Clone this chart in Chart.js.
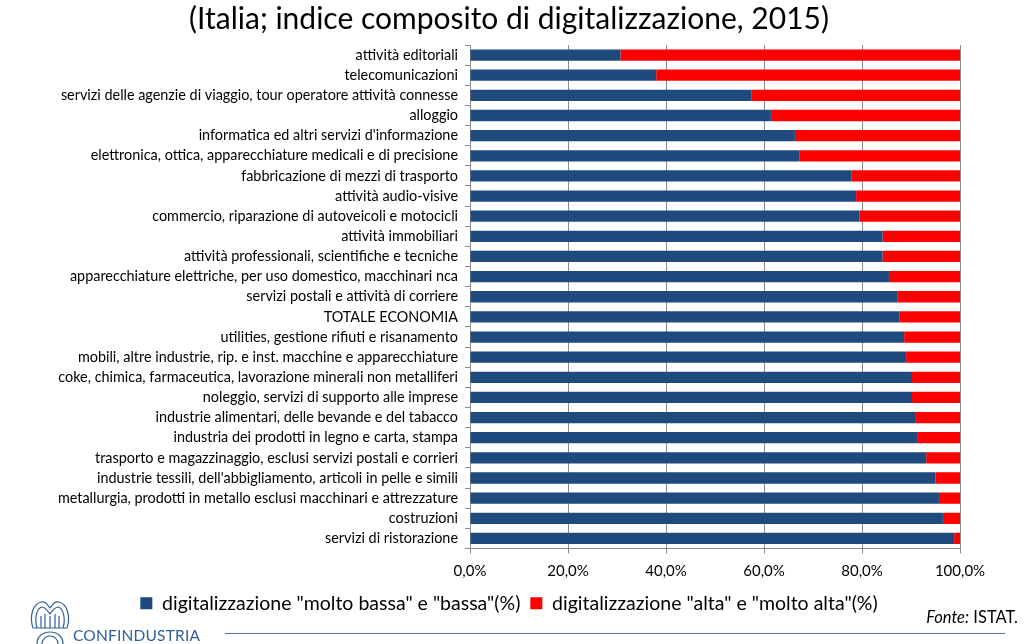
<!DOCTYPE html>
<html>
<head>
<meta charset="utf-8">
<script src="https://cdn.jsdelivr.net/npm/chart.js@4/dist/chart.umd.min.js"></script>
<style>
  html, body { margin: 0; padding: 0; background: #fff; }
  #wrap { position: relative; width: 1024px; height: 644px; overflow: hidden; }
  #fonte { position: absolute; right: 6px; top: 607px; font: 16.5px Lato, sans-serif; color: #000; }
  #logo { position: absolute; left: 73px; top: 626px; font: 15.5px Lato, sans-serif; color: #2f5f9a; letter-spacing: 0.2px; }
  #emblem { position: absolute; left: 27px; top: 598px; }
  #rule { position: absolute; left: 225px; top: 633px; width: 780px; height: 1px; background: #4a78b0; }
</style>
</head>
<body>
<div id="wrap">
  <canvas id="chart" width="1024" height="644"></canvas>
  <div id="fonte"><i>Fonte:</i> ISTAT.</div>
  <svg id="emblem" width="46" height="46" viewBox="0 0 46 46" fill="none" stroke="#2f5f9a" stroke-width="1.2">
    <path d="M6 30 C2 18 6 6 14 4 C18 3 20 6 23 10 C26 6 28 3 32 4 C40 6 44 18 40 30"/>
    <path d="M10 30 C7 20 10 10 15 9 C18 9 20 12 23 16 C26 12 28 9 31 9 C36 10 39 20 36 30"/>
    <path d="M14 30 L14 18 M18 30 L18 16 M23 30 L23 18 M28 30 L28 16 M32 30 L32 18"/>
    <path d="M6 30 L40 30"/>
    <path d="M10 46 C10 38 16 34 23 34 C30 34 36 38 36 46"/>
    <path d="M15 46 C15 41 19 38 23 38 C27 38 31 41 31 46"/>
  </svg>
  <div id="logo">CONFINDUSTRIA</div>
  <div id="rule"></div>
</div>
<script>
// Categorie (dall'alto verso il basso)
const categorie = [
    'attività editoriali',
    'telecomunicazioni',
    'servizi delle agenzie di viaggio, tour operatore attività connesse',
    'alloggio',
    "informatica ed altri servizi d'informazione",
    'elettronica, ottica, apparecchiature medicali e di precisione',
    'fabbricazione di mezzi di trasporto',
    'attività audio-visive',
    'commercio, riparazione di autoveicoli e motocicli',
    'attività immobiliari',
    'attività professionali, scientifiche e tecniche',
    'apparecchiature elettriche, per uso domestico, macchinari nca',
    'servizi postali e attività di corriere',
    'TOTALE ECONOMIA',
    'utilities, gestione rifiuti e risanamento',
    'mobili, altre industrie, rip. e inst. macchine e apparecchiature',
    'coke, chimica, farmaceutica, lavorazione minerali non metalliferi',
    'noleggio, servizi di supporto alle imprese',
    'industrie alimentari, delle bevande e del tabacco',
    'industria dei prodotti in legno e carta, stampa',
    'trasporto e magazzinaggio, esclusi servizi postali e corrieri',
    "industrie tessili, dell'abbigliamento, articoli in pelle e simili",
    'metallurgia, prodotti in metallo esclusi macchinari e attrezzature',
    'costruzioni',
    'servizi di ristorazione'
];

// digitalizzazione "molto bassa" e "bassa" (%)
const bassa = [30.7, 38.0, 57.5, 61.4, 66.3, 67.3, 77.8, 78.8, 79.5, 84.2, 84.2, 85.5, 87.3,
               87.6, 88.6, 89.0, 90.2, 90.2, 91.0, 91.4, 93.1, 95.0, 95.7, 96.5, 98.8];

// digitalizzazione "alta" e "molto alta" (%)
const alta = [69.3, 62.0, 42.5, 38.6, 33.7, 32.7, 22.2, 21.2, 20.5, 15.8, 15.8, 14.5, 12.7,
              12.4, 11.4, 11.0, 9.8, 9.8, 9.0, 8.6, 6.9, 5.0, 4.3, 3.5, 1.2];

const xTicks = [0, 20, 40, 60, 80, 100];

const FONT = 'Lato, "Liberation Sans", sans-serif';
const GRID = '#8c8c8c';

new Chart(document.getElementById('chart'), {
    type: 'bar',
    data: {
        labels: categorie,
        datasets: [
            {
                label: 'digitalizzazione "molto bassa" e "bassa"(%)',
                data: bassa,
                backgroundColor: '#1f4a7e',
                barPercentage: 0.56,
                categoryPercentage: 1
            },
            {
                label: 'digitalizzazione "alta" e "molto alta"(%)',
                data: alta,
                backgroundColor: '#ff0000',
                barPercentage: 0.56,
                categoryPercentage: 1
            }
        ]
    },
    options: {
        indexAxis: 'y',
        responsive: false,
        animation: false,
        layout: { padding: { left: 0, right: 6, top: 0, bottom: 21 } },
        plugins: {
            title: {
                display: true,
                text: '(Italia; indice composito di digitalizzazione, 2015)',
                color: '#000',
                font: { family: FONT, size: 30, weight: 'normal' },
                padding: { top: 1, bottom: 8 }
            },
            legend: {
                position: 'bottom',
                labels: {
                    color: '#000',
                    font: { family: FONT, size: 19.5 },
                    boxWidth: 12,
                    boxHeight: 12,
                    padding: 10
                }
            },
            tooltip: { enabled: false }
        },
        scales: {
            x: {
                stacked: true,
                min: 0,
                max: 100,
                afterBuildTicks: s => { s.ticks = xTicks.map(v => ({ value: v })); },
                afterFit: s => { s.height = 35; },
                ticks: {
                    color: '#000',
                    font: { family: FONT, size: 15 },
                    padding: 9,
                    callback: v => v.toFixed(1).replace('.', ',') + '%'
                },
                grid: { color: GRID, tickLength: 5 },
                border: { color: GRID }
            },
            y: {
                stacked: true,
                afterFit: s => { s.width = 470; },
                ticks: {
                    color: '#000',
                    font: { family: FONT, size: 14.4 },
                    padding: 7,
                    autoSkip: false
                },
                grid: { offset: true, drawOnChartArea: false, color: GRID, tickLength: 5 },
                border: { color: GRID }
            },
            // asse vuoto a destra: solo per riservare spazio
            yDx: {
                position: 'right',
                afterFit: s => { s.width = 58; },
                ticks: { display: false },
                grid: { display: false },
                border: { display: false }
            }
        }
    }
});
</script>
</body>
</html>
